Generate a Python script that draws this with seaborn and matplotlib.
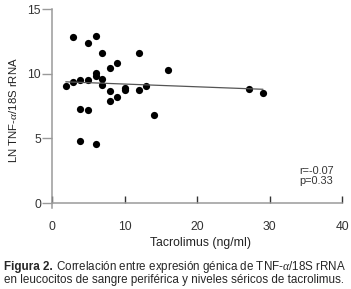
import matplotlib
matplotlib.use('Agg')
import matplotlib.pyplot as plt
import seaborn as sns
import pandas as pd

# datos
tacrolimus = [1.9, 2.9, 2.9, 3.9, 3.9, 3.9, 4.9, 4.95, 5.0, 6.0, 6.0, 6.0, 6.0,
              6.95, 6.95, 6.95, 8.0, 8.0, 8.0, 9.0, 9.0, 10.0, 10.05, 12.0,
              12.05, 13.0, 14.05, 16.0, 27.2, 29.1]
tnf_ln = [9.05, 9.33, 12.8, 9.5, 7.24, 4.76, 12.38, 9.48, 7.16, 12.9, 10.06,
          9.8, 4.55, 11.6, 9.56, 9.1, 10.47, 8.66, 7.9, 10.86, 8.16, 8.9,
          8.7, 8.72, 11.58, 9.07, 6.79, 10.31, 8.8, 8.49]
stats_txt = 'r=-0.07\np=0.33'
xlabel = 'Tacrolimus (ng/ml)'
ylabel = 'LN TNF-$\\alpha$/18S rRNA'
cap_bold = 'Figura 2.'
cap_line1 = ' Correlación entre expresión génica de TNF-$\\alpha$/18S rRNA'
cap_line2 = 'en leucocitos de sangre periférica y niveles séricos de tacrolimus.'

sns.set_theme(style='white')
plt.rcParams['font.family'] = ['Liberation Sans', 'DejaVu Sans']
plt.rcParams['mathtext.fontset'] = 'custom'
plt.rcParams['mathtext.it'] = 'Liberation Serif:italic'

df = pd.DataFrame({'x': tacrolimus, 'y': tnf_ln})

W, H = 351, 289
fig = plt.figure(figsize=(W / 100, H / 100), dpi=100)
ax = fig.add_axes([52 / W, 1 - 203 / H, 290 / W, 194 / H])

sns.regplot(data=df, x='x', y='y', ax=ax, ci=None, truncate=True,
            scatter_kws={'s': 27, 'color': 'black', 'alpha': 1, 'linewidths': 0},
            line_kws={'color': '#555555', 'lw': 0.9})

ax.set_xlim(0, 40)
ax.set_ylim(0, 15)
ax.set_xticks([0, 10, 20, 30, 40])
ax.set_yticks([0, 5, 10, 15])
ax.set_xlabel(xlabel, fontsize=8.8, color='#222222')
ax.set_ylabel(ylabel, fontsize=8.2, color='#222222')
ax.xaxis.set_label_coords((201 - 52) / 290, -(246 - 203) / 194)
ax.xaxis.label.set_va('baseline')
ax.yaxis.set_label_coords((19.5 - 52) / 290, (203 - 110) / 194)

for s in ['top', 'right']:
    ax.spines[s].set_visible(False)
for s in ['left', 'bottom']:
    ax.spines[s].set_color('#9a9a9a')
    ax.spines[s].set_linewidth(1.1)
ax.spines['left'].set_bounds(-0.4, 15)

ax.tick_params(axis='y', direction='out', length=7, width=1, color='#9a9a9a',
               labelsize=8.7, labelcolor='#333333', pad=1, left=True)
ax.tick_params(axis='x', direction='in', length=5, width=1, color='#333333',
               labelsize=8.7, labelcolor='#333333', pad=13, bottom=True)

ax.text((299 - 52) / 290, (203 - 186) / 194, stats_txt, transform=ax.transAxes,
        fontsize=7.8, color='#333333', ha='left', va='bottom', linespacing=1.05)

# pie de figura
t1 = fig.text(4 / W, 1 - 270 / H, cap_bold, fontsize=8.4, fontweight='bold',
              va='baseline', ha='left')
fig.canvas.draw()
bb = t1.get_window_extent()
fig.text(bb.x1 / fig.bbox.width, 1 - 270 / H, cap_line1, fontsize=8.4,
         va='baseline', ha='left')
fig.text(4 / W, 1 - 283.5 / H, cap_line2, fontsize=8.4, va='baseline', ha='left')

fig.savefig('out.png', dpi=100, facecolor='white')
